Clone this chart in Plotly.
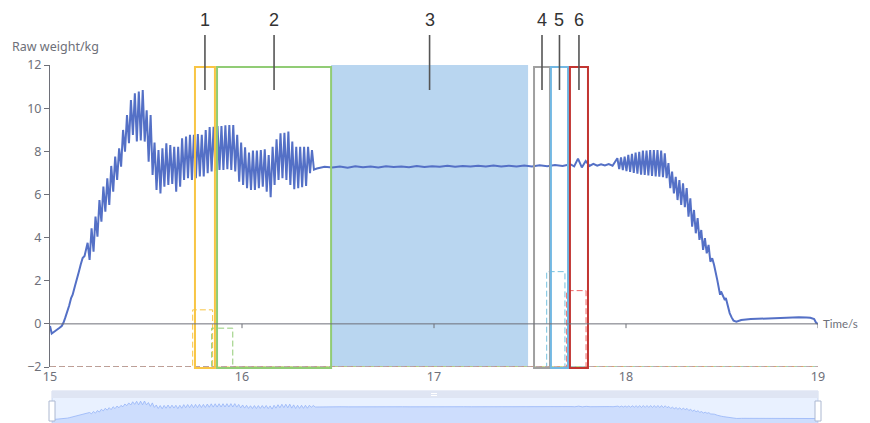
import plotly.graph_objects as go

# ---------------- data ----------------
# start-up ramp (time s, weight kg)
ramp_t = [15.000, 15.009, 15.020, 15.035, 15.050, 15.061, 15.070, 15.080, 15.090,
          15.100, 15.110, 15.118, 15.130, 15.140, 15.150, 15.160, 15.170, 15.180]
ramp_w = [-0.10, -0.45, -0.38, -0.30, -0.18, -0.10, 0.05, 0.30, 0.55,
          0.85, 1.20, 1.35, 1.75, 2.15, 2.40, 2.75, 3.05, 3.15]

# first oscillating section: one peak and one trough per cycle
osc1_start = 15.196
osc1_period = 0.0205
osc1_peaks = [3.76, 4.43, 4.97, 5.74, 6.36, 6.75, 7.32, 7.75, 8.14, 8.99, 9.68, 10.38, 10.69, 10.77, 10.84,
              9.90, 9.68, 8.40, 8.06, 8.14, 8.37, 8.29, 8.21, 8.21, 8.60, 8.68, 8.76, 8.76,
              8.80, 8.76, 8.99, 9.12, 9.14, 9.17, 9.17, 9.20, 9.22, 9.22, 8.76, 8.40, 8.19, 7.94, 8.03,
              8.03, 8.06, 8.09, 7.83, 8.21, 8.56, 8.84, 8.86, 8.91, 8.45, 8.21, 8.21, 8.21, 8.21, 8.06]
osc1_troughs = [2.96, 3.35, 4.04, 4.74, 5.20, 5.51, 6.13, 6.67, 7.29, 7.98, 8.37, 8.76, 8.45, 8.50, 8.45,
                7.52, 6.90, 6.21, 6.05, 6.36, 6.44, 6.49, 6.13, 6.36, 6.67, 6.75, 6.67, 6.75,
                6.83, 6.83, 6.98, 7.06, 7.10, 7.13, 7.13, 7.17, 7.13, 7.06, 6.59, 6.44, 6.29, 6.21, 6.21,
                6.29, 6.36, 6.13, 5.87, 6.44, 6.67, 6.75, 6.67, 6.44, 6.24, 6.29, 6.33, 6.39, 6.98, 7.15]

# steady section
flat_t = [16.39, 16.43, 16.47, 16.51, 16.55, 16.59, 16.63, 16.67, 16.71, 16.75, 16.79, 16.83,
          16.87, 16.91, 16.95, 16.99, 17.03, 17.07, 17.11, 17.15, 17.19, 17.23, 17.27, 17.31,
          17.35, 17.39, 17.43, 17.47, 17.51, 17.55, 17.59, 17.63, 17.67, 17.71, 17.73, 17.75,
          17.77, 17.79, 17.81, 17.83, 17.85, 17.87, 17.89, 17.91, 17.93]
flat_w = [7.20, 7.28, 7.25, 7.30, 7.24, 7.31, 7.26, 7.29, 7.25, 7.31, 7.27, 7.30,
          7.26, 7.32, 7.27, 7.31, 7.28, 7.33, 7.28, 7.32, 7.29, 7.33, 7.29, 7.34,
          7.30, 7.33, 7.30, 7.34, 7.30, 7.35, 7.31, 7.36, 7.32, 7.40, 7.30, 7.66,
          7.25, 7.55, 7.32, 7.42, 7.33, 7.40, 7.34, 7.41, 7.33]

# second oscillating section (growing, then falling)
osc2_start = 17.955
osc2_period = 0.019
osc2_peaks = [7.68, 7.72, 7.75, 7.83, 7.88, 7.94, 7.98, 8.03, 8.03, 8.06, 8.06, 8.06, 8.03, 7.91,
              7.45, 7.06, 6.82, 6.67, 6.52, 6.29, 5.82, 5.28, 4.90, 4.35, 3.97, 3.66, 3.04]
osc2_troughs = [7.17, 7.13, 7.08, 7.04, 7.00, 6.96, 6.92, 6.90, 6.88, 6.86, 6.84, 6.82, 6.80, 6.75,
                6.29, 6.05, 5.74, 5.51, 5.41, 4.97, 4.51, 4.20, 3.89, 3.43, 3.27, 2.88, 2.74]

# unloading tail
tail_t = [18.475, 18.485, 18.490, 18.495, 18.505, 18.515, 18.520, 18.530, 18.540, 18.550,
          18.560, 18.575, 18.600, 18.650, 18.700, 18.750, 18.800, 18.850, 18.900, 18.940,
          18.960, 18.980, 18.990, 19.000]
tail_w = [2.05, 1.60, 1.35, 1.50, 1.25, 1.10, 1.20, 0.80, 0.50, 0.30,
          0.15, 0.10, 0.18, 0.22, 0.24, 0.27, 0.29, 0.30, 0.31, 0.30,
          0.28, 0.22, 0.05, 0.00]

# trigger signals (dashed) : rise time, fall time, level
sig_colors = ["#f8c545", "#91cc75", "#73c0de", "#ee6666"]
sig_on = [15.743, 15.842, 17.587, 17.691]
sig_off = [15.847, 15.952, 17.682, 17.792]
sig_level = [0.65, -0.20, 2.42, 1.54]
sig_base = -2.0

# marked regions 1..6
region_labels = ["1", "2", "3", "4", "5", "6"]
region_start = [15.755, 15.870, 16.464, 17.521, 17.609, 17.708]
region_end = [15.859, 16.464, 17.490, 17.604, 17.698, 17.802]
region_colors = ["#f8c545", "#91cc75", "#b9d6f0", "#a0a0a0", "#72b8e3", "#c23531"]
region_filled = [False, False, True, False, False, False]

x_ticks = [15, 16, 17, 18, 19]
y_ticks = [-2, 0, 2, 4, 6, 8, 10, 12]

# ---------------- build the series ----------------
t, w = list(ramp_t), list(ramp_w)
for i, (p, q) in enumerate(zip(osc1_peaks, osc1_troughs)):
    t += [osc1_start + i * osc1_period, osc1_start + (i + 0.5) * osc1_period]
    w += [p, q]
t += flat_t
w += flat_w
for i, (p, q) in enumerate(zip(osc2_peaks, osc2_troughs)):
    t += [osc2_start + i * osc2_period, osc2_start + (i + 0.5) * osc2_period]
    w += [p, q]
t += tail_t
w += tail_w

# ---------------- layout geometry ----------------
OFF = 8                      # page body margin of the browser
W, H = 870 - OFF, 423
PL, PR = 50, 818             # plot area left/right on screen
ML, MR = PL - OFF, W + OFF - PR
PW = PR - PL


def py(screen_y):
    """screen pixel row -> paper fraction"""
    return (H - (screen_y - OFF)) / H


def px(screen_x):
    return (screen_x - PL) / PW


BOT = 428                    # bottom of the slider (below the window edge)
dom_main = [py(367), py(65)]
dom_slider = [py(BOT), py(398)]
slider_px_per_unit = 17.3 / 10.64
y3_top = 10.84 + (401 - 398) / slider_px_per_unit
y3_range = [y3_top - (BOT - 398) / slider_px_per_unit, y3_top]

AXC = "#6e7079"
FONT = "Noto Sans"

fig = go.Figure()

# dashed trigger signals
for c, on, off, lv in zip(sig_colors, sig_on, sig_off, sig_level):
    fig.add_trace(go.Scatter(
        x=[x_ticks[0], on, on, off, off, x_ticks[-1]],
        y=[sig_base, sig_base, lv, lv, sig_base, sig_base],
        mode="lines", line=dict(color=c, width=1, dash="6px,3px"),
        hoverinfo="skip", showlegend=False))
fig.add_trace(go.Scatter(
    x=[x_ticks[0], x_ticks[-1]], y=[sig_base, sig_base], mode="lines",
    line=dict(color="#aaaaaa", width=1, dash="4px,5px"), hoverinfo="skip", showlegend=False))

# main weight line
fig.add_trace(go.Scatter(x=t, y=w, mode="lines", line=dict(color="#5470c6", width=2),
                         showlegend=False, name="Raw weight"))

# slider mini chart
fig.add_trace(go.Scatter(x=[x_ticks[0], x_ticks[-1]], y=[y3_range[0]] * 2, mode="lines",
                         line=dict(width=0, color="rgba(0,0,0,0)"), xaxis="x3", yaxis="y3",
                         hoverinfo="skip", showlegend=False))
fig.add_trace(go.Scatter(x=t, y=w, mode="lines", fill="tonexty",
                         fillcolor="rgba(143,176,247,0.30)",
                         line=dict(color="rgba(143,176,247,0.9)", width=0.8),
                         xaxis="x3", yaxis="y3", hoverinfo="skip", showlegend=False))

shapes = []
annotations = []

# regions
for lab, x0, x1, col, filled in zip(region_labels, region_start, region_end, region_colors, region_filled):
    if filled:
        shapes.append(dict(type="rect", xref="x", yref="paper", x0=x0, x1=x1,
                           y0=dom_main[0], y1=dom_main[1], fillcolor=col, line=dict(width=0),
                           layer="below"))
    else:
        shapes.append(dict(type="rect", xref="x", yref="paper", x0=x0, x1=x1,
                           y0=py(368), y1=py(67),
                           line=dict(color=col, width=2), fillcolor="rgba(0,0,0,0)", layer="above"))
    xc = (x0 + x1) / 2
    shapes.append(dict(type="line", xref="x", yref="paper", x0=xc, x1=xc,
                       y0=py(90), y1=py(35), line=dict(color="#555555", width=1.6)))
    annotations.append(dict(text=lab, x=xc, xref="x", y=py(20), yref="paper",
                            showarrow=False, font=dict(family="Liberation Sans, Arial", size=18, color="#333333"),
                            xanchor="center", yanchor="middle"))

# zero line with ticks
shapes.append(dict(type="line", xref="x", yref="y", x0=x_ticks[0], x1=x_ticks[-1], y0=0, y1=0,
                   line=dict(color=AXC, width=1)))
for xt in x_ticks[1:]:
    shapes.append(dict(type="line", xref="x", yref="y", x0=xt, x1=xt, y0=0, y1=-0.2,
                       line=dict(color=AXC, width=1)))

# slider frame
shapes.append(dict(type="rect", xref="paper", yref="paper", x0=px(52), x1=px(818), y0=py(BOT),
                   y1=py(391), fillcolor="rgba(0,0,0,0)",
                   line=dict(color="#d2dbee", width=1), layer="below"))
shapes.append(dict(type="rect", xref="paper", yref="paper", x0=px(52), x1=px(818),
                   y0=py(398), y1=py(391),
                   fillcolor="#dfe5f3", line=dict(width=0), layer="below"))
shapes.append(dict(type="rect", xref="paper", yref="paper", x0=px(52), x1=px(818), y0=py(BOT),
                   y1=py(398), fillcolor="rgba(135,175,255,0.18)",
                   line=dict(width=0), layer="below"))
for hx in [52, 818]:
    shapes.append(dict(type="rect", xref="paper", yref="paper", x0=px(hx - 3), x1=px(hx + 3),
                       y0=py(421), y1=py(401), fillcolor="#ffffff",
                       line=dict(color="#acb8d1", width=1), layer="above"))
for ly in [393.5, 395.5]:
    shapes.append(dict(type="line", xref="paper", yref="paper", x0=px(431), x1=px(437),
                       y0=py(ly), y1=py(ly), line=dict(color="#ffffff", width=1)))

annotations.append(dict(text="Time/s", xref="paper", x=px(860), yref="y", y=0,
                        xanchor="right", yanchor="middle", showarrow=False,
                        font=dict(family="Lato", size=11.5, color=AXC)))
annotations.append(dict(text="Raw weight/kg", xref="paper", x=px(10), yref="paper",
                        y=py(46.5), xanchor="left", yanchor="middle", showarrow=False,
                        font=dict(family=FONT, size=12.5, color=AXC)))

fig.update_layout(
    width=W, height=H,
    margin=dict(l=ML, r=MR, t=0, b=0, pad=0, autoexpand=False),
    paper_bgcolor="#ffffff", plot_bgcolor="rgba(0,0,0,0)",
    font=dict(family=FONT, color=AXC, size=12),
    showlegend=False,
    xaxis=dict(domain=[0, 1], range=[x_ticks[0], x_ticks[-1]], tickvals=x_ticks,
               ticks="", showline=False, showgrid=False, zeroline=False, automargin=False,
               tickfont=dict(size=12.5, color=AXC), anchor="y"),
    yaxis=dict(domain=dom_main, range=[y_ticks[0], y_ticks[-1]], tickvals=y_ticks,
               ticks="outside", ticklen=5, tickcolor=AXC, showline=True, linecolor=AXC,
               linewidth=1, showgrid=False, zeroline=False, automargin=False,
               tickfont=dict(size=12.5, color=AXC), anchor="x"),
    xaxis3=dict(domain=[px(52), 1], range=[x_ticks[0], x_ticks[-1]], visible=False,
                anchor="y3", automargin=False),
    yaxis3=dict(domain=dom_slider, range=y3_range, visible=False, anchor="x3",
                automargin=False),
    shapes=shapes, annotations=annotations,
)

fig.write_html("out.html")
